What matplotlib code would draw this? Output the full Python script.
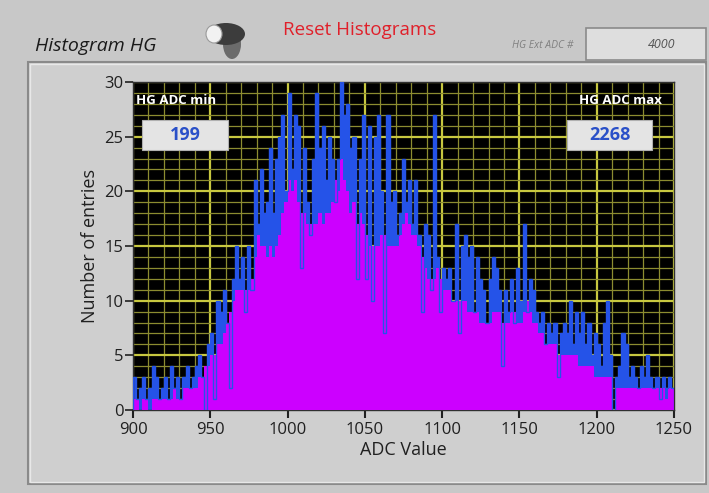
import numpy as np
import matplotlib
matplotlib.use("Agg")
import matplotlib.pyplot as plt
from matplotlib.patches import Rectangle, Ellipse
from matplotlib.ticker import MultipleLocator

# ---------------- data ----------------
bin_width = 2
bin_starts = np.arange(900, 1250, bin_width)  # 175 bins

blue_counts = [
    3, 1, 2, 3, 1, 2, 4, 3, 1,
    2, 3, 1, 4, 2, 3, 1, 3, 4, 2,
    3, 4, 5, 3, 0, 6, 7, 1, 10, 9,
    11, 8, 2, 12, 15, 12, 14, 9, 15, 11,
    21, 17, 22, 18, 19, 24, 18, 23, 25, 27,
    20, 29, 22, 27, 26, 13, 24, 19, 16, 23,
    29, 24, 26, 21, 25, 23, 19, 23, 30, 27,
    28, 24, 25, 12, 23, 27, 12, 26, 10, 25,
    27, 20, 7, 27, 19, 20, 16, 18, 23, 19,
    21, 17, 21, 16, 9, 17, 16, 11, 27, 14,
    9, 13, 12, 13, 10, 17, 7, 15, 16, 14,
    15, 9, 14, 12, 11, 8, 12, 14, 13, 11,
    4, 11, 9, 12, 8, 13, 10, 17, 9, 12,
    11, 9, 8, 9, 6, 8, 7, 8, 3, 7,
    8, 7, 10, 6, 9, 7, 9, 6, 8, 5,
    7, 6, 4, 8, 10, 5, 0, 3, 4, 7,
    6, 3, 4, 3, 2, 4, 3, 5, 3, 2,
    3, 1, 3, 2, 3, 2,
]
magenta_counts = [
    1, 1, 0, 1, 1, 0, 1, 1, 1,
    1, 1, 1, 1, 2, 1, 1, 2, 2, 2,
    2, 2, 3, 3, 4, 4, 5, 5, 6, 6,
    7, 8, 9, 10, 11, 11, 11, 11, 11, 12,
    14, 16, 15, 15, 14, 15, 14, 15, 16, 18,
    19, 21, 20, 21, 19, 18, 18, 17, 17, 17,
    17, 18, 17, 18, 18, 19, 21, 20, 23, 21,
    20, 18, 19, 17, 18, 17, 16, 15, 15, 15,
    15, 16, 16, 15, 15, 15, 15, 16, 17, 18,
    17, 16, 16, 15, 14, 13, 12, 12, 12, 13,
    12, 11, 11, 11, 10, 10, 10, 10, 10, 9,
    9, 9, 9, 8, 8, 8, 8, 9, 9, 9,
    8, 8, 8, 9, 9, 8, 8, 9, 10, 9,
    8, 8, 7, 7, 6, 6, 6, 6, 5, 5,
    5, 5, 5, 5, 5, 4, 4, 4, 4, 4,
    3, 3, 3, 3, 3, 3, 0, 2, 2, 2,
    2, 2, 2, 2, 2, 2, 2, 2, 2, 2,
    2, 2, 2, 1, 2, 2,
]
x_ticks = [900, 950, 1000, 1050, 1100, 1150, 1200, 1250]
y_ticks = [0, 5, 10, 15, 20, 25, 30]
adc_min_value = "199"
adc_max_value = "2268"
ext_adc_value = "4000"

blue_counts = np.array(blue_counts, dtype=float)
magenta_counts = np.array(magenta_counts, dtype=float)
assert len(blue_counts) == len(bin_starts) == len(magenta_counts)

# ---------------- figure ----------------
W, H = 709, 493
plt.rcParams['font.family'] = ['Open Sans', 'DejaVu Sans']
fig = plt.figure(figsize=(W / 100, H / 100), dpi=100, facecolor='#c8c8c8')


def fx(px):
    return px / W


def fy(py):
    return 1 - py / H


# panel with bevel
panel = Rectangle((fx(28), fy(484)), fx(706) - fx(28), fy(62) - fy(484),
                  transform=fig.transFigure, facecolor='#cfcfcf',
                  edgecolor='#8a8a8a', linewidth=1.5, zorder=0)
fig.add_artist(panel)
fig.add_artist(Rectangle((fx(30), fy(482)), fx(704) - fx(30), fy(64) - fy(482),
                         transform=fig.transFigure, facecolor='none',
                         edgecolor='#e8e8e8', linewidth=1, zorder=0))

# header texts
fig.text(fx(35), fy(46), "Histogram HG", fontsize=14, style='italic',
         color='#1a1a1a', va='center', ha='left')
fig.text(fx(283), fy(30), "Reset Histograms", fontsize=13.5, color='#e0202a',
         va='center', ha='left')
fig.text(fx(574), fy(46), "HG Ext ADC #", fontsize=7.5, style='italic',
         color='#808080', va='center', ha='right')
fig.add_artist(Rectangle((fx(586), fy(60)), fx(706) - fx(586), fy(28) - fy(60),
                         transform=fig.transFigure, facecolor='#dedede',
                         edgecolor='#8a8a8a', linewidth=1.2, zorder=1))
fig.text(fx(662), fy(44), ext_adc_value, fontsize=9, style='italic',
         color='#555555', va='center', ha='center')

# toggle switch graphic
fig.add_artist(Ellipse((fx(232), fy(44)), 18 / W, 30 / H, transform=fig.transFigure,
                       facecolor='#6b6b6b', edgecolor='none', zorder=2))
fig.add_artist(Ellipse((fx(226), fy(34)), 38 / W, 22 / H, transform=fig.transFigure,
                       facecolor='#3c3c3c', edgecolor='none', zorder=2))
fig.add_artist(Ellipse((fx(214), fy(34)), 16 / W, 18 / H, transform=fig.transFigure,
                       facecolor='#f2f2f2', edgecolor='#9a9a9a', linewidth=0.8,
                       zorder=3))

# ---------------- plot ----------------
ax = fig.add_axes([fx(133), fy(410), fx(674) - fx(133), fy(82) - fy(410)])
ax.set_facecolor('black')
ax.set_xlim(900, 1250)
ax.set_ylim(0, 30)

ax.xaxis.set_major_locator(MultipleLocator(50))
ax.xaxis.set_minor_locator(MultipleLocator(10))
ax.yaxis.set_major_locator(MultipleLocator(5))
ax.yaxis.set_minor_locator(MultipleLocator(1))
ax.grid(which='minor', color='#8c8c30', linewidth=0.9, zorder=0)
ax.grid(which='major', color='#c8c840', linewidth=1.6, zorder=0)
ax.set_axisbelow(True)

edges = np.append(bin_starts, bin_starts[-1] + bin_width)
blue_col = '#2553e8'
mag_col = '#cc00ff'

# blue filled histogram (behind)
ax.stairs(blue_counts, edges, fill=True, color=blue_col, zorder=2)
# magenta filled histogram
ax.stairs(magenta_counts, edges, fill=True, color=mag_col, zorder=3)
# blue outline on top
ax.stairs(blue_counts, edges, fill=False, color=blue_col, linewidth=1.0, zorder=4)

ax.set_xticks(x_ticks)
ax.set_yticks(y_ticks)
ax.tick_params(axis='both', which='minor', length=0)
ax.tick_params(axis='x', which='major', direction='out', length=6, width=1.5,
               colors='#202020', labelsize=12, pad=3)
ax.tick_params(axis='y', which='major', direction='out', length=6, width=1.2,
               colors='#202020', labelsize=12, pad=1)
for sp in ax.spines.values():
    sp.set_color('#303030')
    sp.set_linewidth(1.0)

ax.set_xlabel("ADC Value", fontsize=13, color='#202020', labelpad=2)
ax.set_ylabel("Number of entries", fontsize=13, color='#202020', labelpad=4)

# min / max indicators
fig.text(fx(136), fy(100), "HG ADC min", fontsize=9.5, fontweight='bold',
         color='white', va='center', ha='left', zorder=10)
fig.add_artist(Rectangle((fx(142), fy(150)), fx(228) - fx(142), fy(120) - fy(150),
                         transform=fig.transFigure, facecolor='#e4e4e4',
                         edgecolor='#b0b0b0', linewidth=0.8, zorder=9))
fig.text(fx(185), fy(135), adc_min_value, fontsize=13, fontweight='bold',
         color='#2a50c8', va='center', ha='center', zorder=10)

fig.text(fx(662), fy(100), "HG ADC max", fontsize=9.5, fontweight='bold',
         color='white', va='center', ha='right', zorder=10)
fig.add_artist(Rectangle((fx(567), fy(150)), fx(652) - fx(567), fy(120) - fy(150),
                         transform=fig.transFigure, facecolor='#e4e4e4',
                         edgecolor='#b0b0b0', linewidth=0.8, zorder=9))
fig.text(fx(610), fy(135), adc_max_value, fontsize=13, fontweight='bold',
         color='#2a50c8', va='center', ha='center', zorder=10)

fig.savefig("out.png", dpi=100, facecolor=fig.get_facecolor())
